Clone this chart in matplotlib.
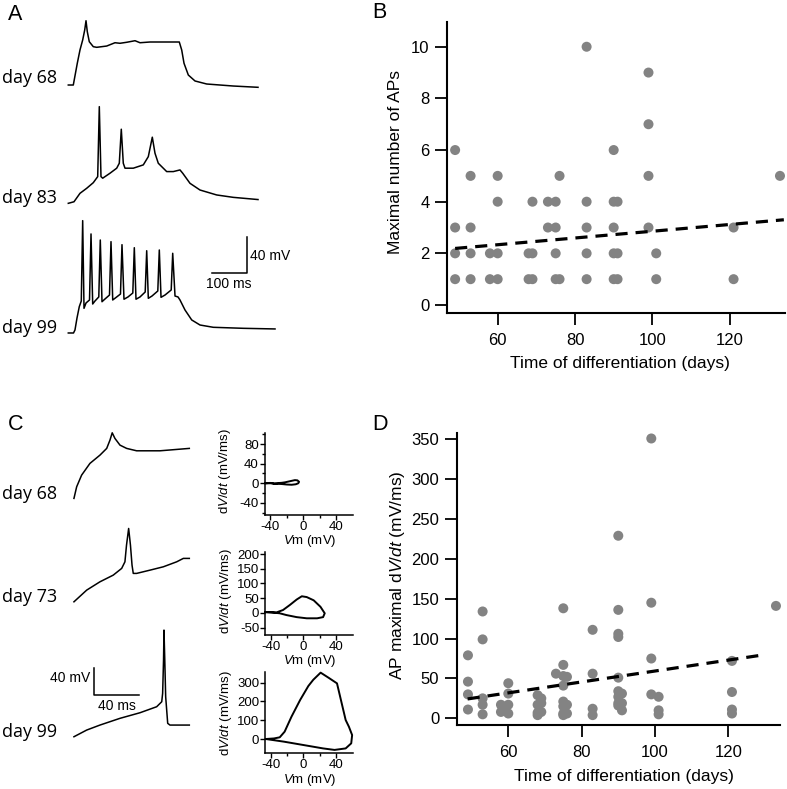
import matplotlib
matplotlib.use('Agg')
import matplotlib.pyplot as plt
from matplotlib.ticker import FixedLocator

# ---------------- DATA ----------------
# Panel A traces (time ms, voltage mV relative to start)
a68_t = [0, 14.3, 25.7, 33.4, 41.1, 46.9, 50.6, 54.3, 60.0, 71.4, 81.1, 109.7, 133.4, 147.7, 166.9,
         190.6, 204.9, 233.4, 281.1, 317.1, 324.0, 330.6, 342.9, 362.0, 395.4, 471.4, 542.0]
a68_v = [0, 0, 23.7, 38.2, 49.1, 60.0, 70.1, 58.1, 47.2, 41.8, 41.1, 42.5, 46.1, 45.5, 46.6,
         48.3, 46.1, 46.9, 46.9, 46.9, 38.2, 23.7, 10.9, 4.4, 1.1, -1.1, -2.5]
a83_t = [0, 16.3, 33.4, 52.6, 71.4, 84.0, 88.6, 93.4, 98.3, 119.1, 138.3, 145.7, 151.4, 157.1, 162.0,
         185.7, 214.3, 228.6, 240.0, 247.7, 257.1, 281.1, 300.0, 319.1, 326.9, 347.7, 376.3, 424.0,
         471.4, 542.0]
a83_v = [0, 1.7, 10.9, 16.4, 22.5, 29.1, 105.4, 29.1, 27.4, 32.8, 38.3, 43.7, 80.8, 43.7, 38.3,
         38.3, 41.9, 50.9, 72.1, 54.6, 43.7, 34.6, 34.6, 36.4, 32.8, 21.8, 14.5, 9.1, 6.5, 4.1]
a99_t = [0, 14.9, 19.1, 24.9, 31.4, 37.1, 41.1, 44.9, 50.6, 60.6, 64.9, 69.7, 76.3, 87.1, 91.4,
         96.3, 104.9, 117.7, 122.0, 126.9, 136.3, 149.1, 153.4, 159.1, 170.6, 184.3, 188.6, 193.4,
         204.9, 219.7, 224.0, 228.6, 239.1, 255.7, 260.0, 264.9, 276.3, 294.0, 298.3, 304.9, 313.4,
         319.1, 333.4, 352.6, 376.3, 414.3, 500.0, 590.6]
a99_v = [0, 0, 3.3, 16.4, 28.7, 34.9, 122.5, 26.9, 32.7, 36.0, 108.0, 31.6, 34.9, 39.3, 101.4,
         34.1, 37.1, 41.4, 99.6, 36.0, 38.7, 42.5, 96.3, 36.8, 39.3, 43.6, 93.0, 36.8,
         39.3, 44.7, 89.7, 37.8, 40.3, 45.8, 90.5, 38.9, 41.4, 46.9, 86.9, 40.3, 39.3,
         36.0, 25.1, 14.2, 8.7, 6.2, 5.1, 4.4]
a_labels = ['day 68', 'day 83', 'day 99']

# Panel B
days_B = [49, 49, 49, 49, 53, 53, 53, 53, 58, 58, 60, 60, 60, 60, 68, 68, 69, 69, 69, 73, 73,
          75, 75, 75, 75, 76, 76, 83, 83, 83, 83, 83, 90, 90, 90, 90, 90, 91, 91, 91,
          99, 99, 99, 99, 101, 101, 121, 121, 133]
aps_B = [6, 3, 2, 1, 5, 3, 2, 1, 2, 1, 5, 4, 2, 1, 2, 1, 4, 2, 1, 4, 3,
         4, 3, 2, 1, 5, 1, 10, 4, 3, 2, 1, 6, 4, 3, 2, 1, 4, 2, 1,
         9, 7, 5, 3, 2, 1, 3, 1, 5]
fit_B_days = [49, 134]
fit_B_vals = [2.19, 3.30]

# Panel C traces (time ms, voltage mV relative to start)
c68_t = [0, 2.4, 6.8, 14.2, 23.1, 29.1, 32.0, 34.0, 36.4, 40.9, 46.8, 55.7, 76.4, 102.5]
c68_v = [0, 17.4, 34.9, 52.5, 64.9, 75.0, 87.4, 98.4, 90.0, 79.9, 75.0, 71.4, 71.4, 75.0]
c73_t = [0, 11.3, 23.1, 34.9, 42.4, 45.3, 46.7, 48.6, 50.2, 51.6, 52.7, 55.7, 67.6, 79.4, 91.3, 97.2, 102.5]
c73_v = [0, 17.5, 30.0, 40.0, 50.1, 60.0, 85.0, 110.0, 85.0, 55.0, 42.6, 42.6, 47.5, 52.5, 60.0, 65.1, 65.1]
c99_t = [0, 11.3, 23.1, 40.9, 58.7, 73.5, 78.0, 78.8, 79.6, 80.0, 80.7, 81.5, 83.3, 85.3, 102.5]
c99_v = [0, 10.0, 17.5, 27.6, 36.0, 45.0, 52.5, 65.1, 115.0, 160.0, 115.0, 60.0, 20.1, 17.5, 17.5]
c_labels = ['day 68', 'day 73', 'day 99']

# Phase plots (Vm mV, dV/dt mV/ms)
p1_vm = [-46, -40, -35, -30, -26, -22, -18, -14, -10, -7, -5, -6, -9, -14, -20, -26, -32, -38, -46]
p1_dv = [0, 0.8, -1, 0.5, 1, 2, 3.5, 5, 6.5, 6, 3, 0, -2, -3, -2.5, -1.5, -1, 0, 0]
p2_vm = [-47, -33, -25, -16.7, -8.3, -2, 4, 12.5, 20.8, 26, 24, 16.7, 4, -8.3, -20.8, -29, -39.6, -47]
p2_dv = [3, 2, 10, 27, 45.6, 56.7, 54, 43, 21, -1, -14, -18, -18, -14, -7, -1, 2, 3]
p3_vm = [-46, -36, -29, -23, -14.6, -4, 6, 12, 21, 31, 41, 51.6, 55.6, 59.5, 58.4, 51.6, 38, 24, 0, -24, -46]
p3_dv = [0, 3, 9, 39, 119, 208, 282, 315, 353, 325, 296, 101, 65, 21, -23, -50, -58, -50, -32, -14, 0]

# Panel D
days_D = [49, 49, 49, 49,
          53, 53, 53, 53, 53,
          58, 58, 59, 60, 60, 60, 60,
          68, 68, 68, 68, 69, 69, 69,
          73,
          75, 75, 75, 75, 75, 75, 75, 75,
          76, 76, 76,
          83, 83, 83, 83,
          90, 90, 90, 90, 90, 90, 90, 90, 90,
          91, 91, 91,
          99, 99, 99, 99,
          101, 101, 101,
          121, 121, 121, 121,
          133]
vmax_D = [79, 46, 30, 11,
          134, 99, 25, 17, 5,
          17, 8, 12, 44, 31, 17, 6,
          29, 17, 7, 4, 25, 19, 8,
          56,
          138, 67, 53, 41, 21, 15, 6, 4,
          52, 17, 6,
          111, 56, 12, 4,
          229, 136, 106, 102, 51, 34, 27, 19, 16,
          31, 19, 10,
          351, 145, 75, 30,
          27, 10, 5,
          72, 33, 11, 6,
          141]
fit_D_days = [48.9, 129.5]
fit_D_vals = [24.3, 79.5]

# ---------------- FIGURE ----------------
plt.rcParams['font.family'] = ['Liberation Sans', 'DejaVu Sans']
plt.rcParams['mathtext.fontset'] = 'custom'
plt.rcParams['mathtext.rm'] = 'Liberation Sans'
plt.rcParams['mathtext.it'] = 'Liberation Sans:italic'
plt.rcParams['axes.unicode_minus'] = False

W, H = 787, 789
fig = plt.figure(figsize=(W / 100, H / 100), dpi=100)


def rect(x0, y0, x1, y1):
    return [x0 / W, 1 - y1 / H, (x1 - x0) / W, (y1 - y0) / H]


def ftext(x, y, s, **kw):
    fig.text(x / W, 1 - y / H, s, **kw)


GRAY = '#838383'
DAYFONT = dict(family=['Open Sans', 'DejaVu Sans'], fontsize=13)

# Panel letters
for lx, ly, lt in [(15, 14, 'A'), (379, 13, 'B'), (16, 425, 'C'), (380, 424, 'D')]:
    ftext(lx, ly, lt, fontsize=15.5, ha='center', va='center')

# ---------- Panel A ----------
axA = fig.add_axes(rect(60, 0, 290, 345))
axA.set_xlim(-23.7, 633.4)
axA.set_ylim(0, 376.2)
axA.axis('off')
a_off = [283.5, 154.5, 13.1]
for (t, v), off in zip([(a68_t, a68_v), (a83_t, a83_v), (a99_t, a99_v)], a_off):
    axA.plot(t, [vv + off for vv in v], color='black', lw=1.1, clip_on=False,
             solid_joinstyle='round')
# scale bar: 100 ms, 40 mV
axA.plot([409.7, 509.7, 509.7], [78.2, 78.2, 118.2], color='black', lw=1.1)
ftext(250, 260, '40 mV', fontsize=10, ha='left', va='baseline')
ftext(229, 288, '100 ms', fontsize=10, ha='center', va='baseline')
for lbl, by in zip(a_labels, [83.3, 203.3, 333]):
    ftext(2, by, lbl, ha='left', va='baseline', **DAYFONT)


def style_main(ax):
    for s in ['top', 'right']:
        ax.spines[s].set_visible(False)
    for s in ['left', 'bottom']:
        ax.spines[s].set_linewidth(1.5)
    ax.tick_params(axis='both', length=8.6, width=1.3, labelsize=12)
    ax.tick_params(axis='y', pad=4)
    ax.tick_params(axis='x', pad=5.5)


# ---------- Panel B ----------
axB = fig.add_axes(rect(447, 21.7, 785, 313))
axB.set_xlim(46.9, 134.3)
axB.set_ylim(-0.31, 10.97)
style_main(axB)
axB.set_xticks([60, 80, 100, 120])
axB.set_yticks([0, 2, 4, 6, 8, 10])
axB.scatter(days_B, aps_B, s=52, c=GRAY, edgecolors='none', clip_on=False, zorder=3)
axB.plot(fit_B_days, fit_B_vals, color='black', lw=2.3, linestyle=(0, (3.8, 2.5)), zorder=4)
axB.set_ylabel('Maximal number of APs', fontsize=12.5)
axB.set_xlabel('Time of differentiation (days)', fontsize=12.5)
axB.yaxis.label.set_verticalalignment('center')
axB.xaxis.label.set_verticalalignment('center')
axB.yaxis.set_label_coords(-0.152, 0.517)
axB.xaxis.set_label_coords(0.512, -0.175)

# ---------- Panel C ----------
axC = fig.add_axes(rect(60, 420, 200, 760))
axC.set_xlim(-12.4, 112.0)
axC.set_ylim(0, 510)
axC.axis('off')
c_off = [392.4, 237.3, 34.9]
for (t, v), off in zip([(c68_t, c68_v), (c73_t, c73_v), (c99_t, c99_v)], c_off):
    axC.plot(t, [vv + off for vv in v], color='black', lw=1.1, clip_on=False,
             solid_joinstyle='round')
# scale bar: 40 ms, 40 mV
axC.plot([18.0, 18.0, 58.0], [137.5, 97.5, 97.5], color='black', lw=1.1)
ftext(90, 682, '40 mV', fontsize=10, ha='right', va='baseline')
ftext(117, 710, '40 ms', fontsize=10, ha='center', va='baseline')
for lbl, by in zip(c_labels, [499.3, 601.7, 737]):
    ftext(2, by, lbl, ha='left', va='baseline', **DAYFONT)

# ---------- Phase plots ----------
phase_specs = [
    (rect(264.5, 433.3, 352.7, 515), (-64.7, 102), [-40, 0, 40, 80], [-60, -20, 20, 60, 100],
     p1_vm, p1_dv, 0.54, 544.2),
    (rect(265, 551.7, 352.7, 635), (-74.6, 207.8), [-50, 0, 50, 100, 150, 200], [],
     p2_vm, p2_dv, 0.53, 664.2),
    (rect(265, 671.7, 352.7, 753.3), (-76, 358), [0, 100, 200, 300], [],
     p3_vm, p3_dv, 0.49, 782.5),
]
for r, yl, ymaj, ymin, vm, dv, ylab_y, xlab_base in phase_specs:
    ax = fig.add_axes(r)
    ax.set_xlim(-47, 60.2)
    ax.set_ylim(*yl)
    for s in ['top', 'right']:
        ax.spines[s].set_visible(False)
    for s in ['left', 'bottom']:
        ax.spines[s].set_linewidth(1.1)
    ax.set_xticks([-40, 0, 40])
    ax.xaxis.set_minor_locator(FixedLocator([-20, 20]))
    ax.set_yticks(ymaj)
    if ymin:
        ax.yaxis.set_minor_locator(FixedLocator(ymin))
    ax.tick_params(which='major', length=3.6, width=1.0, labelsize=9.5)
    ax.tick_params(which='minor', length=2.2, width=1.0)
    ax.tick_params(axis='y', which='both', pad=0.5)
    ax.tick_params(axis='x', which='both', pad=0.6)
    ax.plot(vm, dv, color='black', lw=1.4, clip_on=False, solid_joinstyle='round')
    ax.set_ylabel('d$\\it{V/dt}$ (mV/ms)', fontsize=9.5)
    ax.yaxis.label.set_verticalalignment('center')
    ax.yaxis.set_label_coords(-0.45, ylab_y)
    ftext(310, xlab_base, '$\\it{V}$m (mV)', fontsize=9.5, ha='center', va='baseline')

# ---------- Panel D ----------
axD = fig.add_axes(rect(456.7, 433.3, 780, 725))
axD.set_xlim(45.93, 134.1)
axD.set_ylim(-8.4, 357.5)
style_main(axD)
axD.set_xticks([60, 80, 100, 120])
axD.set_yticks([0, 50, 100, 150, 200, 250, 300, 350])
axD.scatter(days_D, vmax_D, s=52, c=GRAY, edgecolors='none', clip_on=False, zorder=3)
axD.plot(fit_D_days, fit_D_vals, color='black', lw=2.3, linestyle=(0, (3.8, 2.5)), zorder=4)
axD.set_ylabel('AP maximal d$\\it{V/dt}$ (mV/ms)', fontsize=12.5)
axD.set_xlabel('Time of differentiation (days)', fontsize=12.5)
axD.yaxis.label.set_verticalalignment('center')
axD.xaxis.label.set_verticalalignment('center')
axD.yaxis.set_label_coords(-0.183, 0.514)
axD.xaxis.set_label_coords(0.517, -0.177)

fig.savefig('out.png', dpi=100)
